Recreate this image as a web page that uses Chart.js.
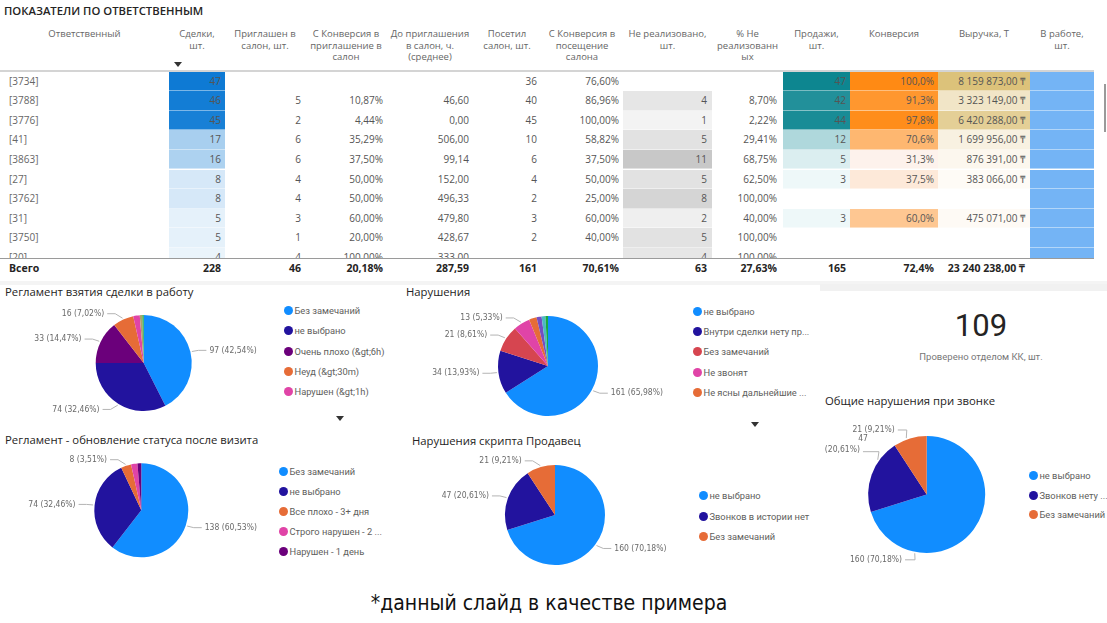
<!DOCTYPE html>
<html><head><meta charset="utf-8">
<script src="https://cdn.jsdelivr.net/npm/chart.js@4.4.1/dist/chart.umd.min.js"></script>
<style>
html,body{margin:0;padding:0;background:#fff;}
body{width:1107px;height:623px;position:relative;overflow:hidden;font-family:"Open Sans",sans-serif;}
.a{position:absolute;box-sizing:border-box;}
.hd{font-size:9.5px;line-height:11.5px;color:#666;text-align:center;white-space:pre-line;}
.cell{font-size:10px;color:#555;white-space:nowrap;}
.tot{font-size:10.5px;font-weight:700;color:#252423;white-space:nowrap;}
.ttl{font-family:"Open Sans",sans-serif;font-size:11.3px;color:#252423;white-space:nowrap;}
.lg{font-family:Roboto,sans-serif;font-size:9.3px;color:#605e5c;white-space:nowrap;height:16px;line-height:16px;}
.dot{display:inline-block;width:9px;height:9px;border-radius:50%;vertical-align:-1px;margin-right:2px;}
.arrow{width:0;height:0;border-left:4px solid transparent;border-right:4px solid transparent;border-top:5px solid #333;}
</style></head><body>
<div id="root"></div>
<script>
// ---------- DATA ----------
const managers = ['[3734]','[3788]','[3776]','[41]','[3863]','[27]','[3762]','[31]','[3750]','[20]'];
const deals = [47,46,45,17,16,8,8,5,5,4];
const invited = [null,5,2,6,6,4,4,3,1,4];
const invitedConv = [null,10.87,4.44,35.29,37.50,50.00,50.00,60.00,20.00,100.00];
const hoursToInvite = [null,46.60,0.00,506.00,99.14,152.00,496.33,479.80,428.67,333.00];
const visited = [36,40,45,10,6,4,2,3,2,null];
const visitConv = [76.60,86.96,100.00,58.82,37.50,50.00,25.00,60.00,40.00,null];
const notRealized = [null,4,1,5,11,5,8,2,5,4];
const notRealizedPct = [null,8.70,2.22,29.41,68.75,62.50,100.00,40.00,100.00,100.00];
const sales = [47,42,44,12,5,3,null,3,null,null];
const salesConv = [100.0,91.3,97.8,70.6,31.3,37.5,null,60.0,null,null];
const revenue = [8159873,3323149,6420288,1699956,876391,383066,null,475071,null,null];
const inWork = [null,null,null,null,null,null,null,null,null,null];
const totals = [228,46,20.18,287.59,161,70.61,63,27.63,165,72.4,23240238,null];
const tableHeaders = ['Ответственный','Сделки,\nшт.','Приглашен в\nсалон, шт.','С Конверсия в\nприглашение в\nсалон','До приглашения\nв салон, ч.\n(среднее)','Посетил\nсалон, шт.','С Конверсия в\nпосещение\nсалона','Не реализовано,\nшт.','% Не\nреализованн\nых','Продажи,\nшт.','Конверсия','Выручка, Т','В работе,\nшт.'];
const tableTitle = 'ПОКАЗАТЕЛИ ПО ОТВЕТСТВЕННЫМ';
const totalLabel = 'Всего';

const pie1Title = 'Регламент взятия сделки в работу';
const pie1Labels = ['Без замечаний','не выбрано','Очень плохо (&gt;6h)','Неуд (&gt;30m)','Нарушен (&gt;1h)','Другое','(пусто)'];
const pie1Values = [97,74,33,16,5,2,1];

const pie2Title = 'Нарушения';
const pie2Labels = ['не выбрано','Внутри сделки нету пр...','Без замечаний','Не звонят','Не ясны дальнейшие ...','Другое','Прочее','(пусто)'];
const pie2Values = [161,34,21,13,6,4,3,2];

const pie3Title = 'Регламент - обновление статуса после визита';
const pie3Labels = ['Без замечаний','не выбрано','Все плохо - 3+ дня','Строго нарушен - 2 ...','Нарушен - 1 день'];
const pie3Values = [138,74,8,5,3];

const pie4Title = 'Нарушения скрипта Продавец';
const pie4Labels = ['не выбрано','Звонков в истории нет','Без замечаний'];
const pie4Values = [160,47,21];

const pie5Title = 'Общие нарушения при звонке';
const pie5Labels = ['не выбрано','Звонков нету ...','Без замечаний'];
const pie5Values = [160,47,21];

const kpiValue = 109;
const kpiLabel = 'Проверено отделом КК, шт.';
const footnote = '*данный слайд в качестве примера';

// ---------- STYLE / LAYOUT ----------
const root = document.getElementById('root');
function el(cls, css, text){ const d=document.createElement('div'); d.className='a '+(cls||''); Object.assign(d.style, css||{}); if(text!=null) d.textContent=text; root.appendChild(d); return d; }

const fmtInt = v => v==null?'':String(v);
const fmt2 = v => v==null?'':v.toFixed(2).replace('.',',');
const fmtPct2 = v => v==null?'':fmt2(v)+'%';
const fmtPct1 = v => v==null?'':v.toFixed(1).replace('.',',')+'%';
const fmtMoney = v => { if(v==null) return ''; const [i,d]=v.toFixed(2).split('.'); return i.replace(/\B(?=(\d{3})+(?!\d))/g,' ')+','+d+' ₸'; };

function heat(lo, hi, c0, c1, g){
  return v => { if(v==null) return null; let t=(v-lo)/(hi-lo); t=Math.max(0,Math.min(1,t)); t=Math.pow(t,g||1);
    const c=c0.map((a,k)=>Math.round(a+(c1[k]-a)*t)); return `rgb(${c[0]},${c[1]},${c[2]})`; };
}
const nn = a => a.filter(v=>v!=null);
const mn = a => Math.min(...nn(a)), mx = a => Math.max(...nn(a));

const columns = [
  {x:0,w:169,data:managers,fmt:v=>v,align:'left',pad:9},
  {x:169,w:56,data:deals,fmt:fmtInt,pad:4,bg:heat(0,mx(deals),[255,255,255],[14,122,212])},
  {x:225,w:80,data:invited,fmt:fmtInt,pad:4},
  {x:305,w:82,data:invitedConv,fmt:fmtPct2,pad:4},
  {x:387,w:86,data:hoursToInvite,fmt:fmt2,pad:4},
  {x:473,w:68,data:visited,fmt:fmtInt,pad:4},
  {x:541,w:82,data:visitConv,fmt:fmtPct2,pad:4},
  {x:623,w:89,data:notRealized,fmt:fmtInt,pad:5,bg:heat(mn(notRealized),mx(notRealized),[243,243,243],[200,200,200])},
  {x:712,w:71,data:notRealizedPct,fmt:fmtPct2,pad:6},
  {x:783,w:67,data:sales,fmt:fmtInt,pad:4,bg:heat(mn(sales),mx(sales),[238,248,249],[13,134,144],0.8)},
  {x:850,w:88,data:salesConv,fmt:fmtPct1,pad:4,bg:heat(mn(salesConv),mx(salesConv),[253,242,236],[255,138,20])},
  {x:938,w:92,data:revenue,fmt:fmtMoney,pad:5,bg:heat(mn(revenue),mx(revenue),[254,251,246],[220,194,122])},
  {x:1030,w:64,data:inWork,fmt:fmtInt,pad:4,bg:()=> '#74b4f5'}
];
const totalFmt = [fmtInt,fmtInt,fmtPct2,fmt2,fmtInt,fmtPct2,fmtInt,fmtPct2,fmtInt,fmtPct1,fmtMoney,fmtInt];

// table title
el('', {left:'4px',top:'3px',fontSize:'11.3px',fontWeight:'600',color:'#252423',whiteSpace:'nowrap'}, tableTitle);
// headers
columns.forEach((c,i)=>{ el('hd',{left:c.x+'px',top:'28px',width:c.w+'px'}, tableHeaders[i]); });
el('arrow',{left:'174px',top:'62px'});
el('',{left:'0px',top:'69.5px',width:'1094px',height:'2px',background:'#d4d4d4'});
// body (clipped)
const body = el('',{left:'0px',top:'71.5px',width:'1094px',height:'187px',overflow:'hidden'});
const rowH = 19.6;
managers.forEach((m,r)=>{
  columns.forEach((c)=>{
    const v=c.data[r];
    const d=document.createElement('div'); d.className='a cell';
    const bg=c.bg?c.bg(v):null;
    Object.assign(d.style,{left:c.x+'px',top:(r*rowH)+'px',width:c.w+'px',height:rowH+'px',lineHeight:rowH+'px',
      textAlign:c.align||'right',paddingLeft:(c.align==='left'?c.pad:0)+'px',paddingRight:(c.align==='left'?0:c.pad)+'px',
      background:bg||'transparent',borderBottom:bg?'1px solid rgba(255,255,255,0.45)':'none',color:c.align==='left'?'#666':'#555'});
    d.textContent=c.fmt(v);
    body.appendChild(d);
  });
});
el('',{left:'0px',top:'258px',width:'1094px',height:'1px',background:'#9a9a9a'});
columns.forEach((c,i)=>{
  const txt = i===0?totalLabel:totalFmt[i-1](totals[i-1]);
  el('tot',{left:c.x+'px',top:'259px',width:c.w+'px',height:'19px',lineHeight:'19px',textAlign:i===0?'left':'right',
    paddingLeft:(i===0?c.pad:0)+'px',paddingRight:(i===0?0:c.pad)+'px'}, txt);
});
el('',{left:'1104px',top:'84px',width:'2px',height:'48px',background:'#9a9a9a'});
el('',{left:'0px',top:'281px',width:'1107px',height:'4px',background:'#f4f4f4'});
el('',{left:'820px',top:'284px',width:'287px',height:'7px',background:'#f1f1f1'});

// ---------- PIES ----------
const PBI = {blue:'#118DFF',navy:'#22139E',orange:'#E66C37',purple:'#6B007B',pink:'#E044A7',violet:'#744EC2',red:'#D64550',olive:'#A9A36B',green:'#1AAB40',teal:'#4CB8C4'};

const pieLabelPlugin = {
  id:'pieLabels',
  afterDatasetsDraw(chart, args, opts){
    const ctx=chart.ctx, meta=chart.getDatasetMeta(0), ds=chart.data.datasets[0];
    const total=ds.data.reduce((a,b)=>a+b,0);
    ctx.save();
    ctx.font=opts.font; ctx.fillStyle=opts.color; ctx.strokeStyle=opts.lineColor; ctx.lineWidth=1;
    meta.data.forEach((arc,i)=>{
      const v=ds.data[i], share=v/total;
      if(share<opts.minShare) return;
      const p=arc.getProps(['x','y','startAngle','endAngle','outerRadius'],true);
      const ov=(opts.overrides||{})[i]||{};
      const frac=ov.frac??0.5;
      const a=p.startAngle+(p.endAngle-p.startAngle)*frac;
      const r=p.outerRadius;
      const ex=p.x+Math.cos(a)*r, ey=p.y+Math.sin(a)*r;
      const side=ov.side??(Math.cos(a)>=0?1:-1);
      const ly=ey+(ov.dy??Math.sin(a)*6.5);
      const gap=ov.gap??19, elbow=ov.elbow??8;
      const tx=ex+side*gap;
      ctx.beginPath();
      ctx.moveTo(ex+Math.cos(a)*1.5, ey+Math.sin(a)*1.5);
      ctx.lineTo(ex+side*elbow, ly);
      ctx.lineTo(tx-side*3, ly);
      ctx.stroke();
      const pct=(share*100).toFixed(2).replace('.',',');
      ctx.textAlign=side>0?'left':'right'; ctx.textBaseline='middle';
      if(ov.wrap){
        ctx.fillText('('+pct+'%)', tx, ly-2);
        ctx.fillText(String(v), tx+(ov.firstDx||0), ly-13);
      } else ctx.fillText(`${v} (${pct}%)`, tx, ly);
    });
    ctx.restore();
  }
};

function makePie(cfg){
  const {box,cx,cy,r,labels,values,colors,overrides}=cfg;
  const cv=document.createElement('canvas');
  cv.width=box.w; cv.height=box.h;
  cv.style.position='absolute'; cv.style.left=box.l+'px'; cv.style.top=box.t+'px';
  root.appendChild(cv);
  new Chart(cv,{
    type:'pie',
    data:{labels:labels,datasets:[{data:values,backgroundColor:colors,borderWidth:0,hoverOffset:0,offset:0}]},
    options:{responsive:false,animation:false,events:[],
      layout:{padding:{left:cx-r-box.l,right:box.l+box.w-(cx+r),top:cy-r-box.t,bottom:box.t+box.h-(cy+r)}},
      plugins:{legend:{display:false},tooltip:{enabled:false},
        pieLabels:{font:'8.5px "Liberation Sans Narrow", "DejaVu Sans Condensed", sans-serif',color:'#6a6a6a',lineColor:'#b4b4b4',minShare:0.03,overrides:overrides||{}}}},
    plugins:[pieLabelPlugin]
  });
  const L=cfg.legend;
  labels.slice(0,L.max).forEach((lab,i)=>{
    const d=el('lg',{left:(L.x-4.5)+'px',top:(L.ys[0]+i*L.step-8)+'px'});
    const s=document.createElement('span'); s.className='dot'; s.style.background=colors[i]; d.appendChild(s);
    d.appendChild(document.createTextNode(lab));
  });
  if(L.arrow) el('arrow',{left:(L.arrow[0]-4)+'px',top:(L.arrow[1]-2)+'px'});
}

el('ttl',{left:'5px',top:'284px'},pie1Title);
makePie({box:{l:10,t:300,w:270,h:125},cx:143.7,cy:363,r:48,labels:pie1Labels,values:pie1Values,
  colors:[PBI.blue,PBI.navy,PBI.purple,PBI.orange,PBI.pink,PBI.olive,PBI.green],
  legend:{x:288,ys:[311],step:20.3,max:5,arrow:[340,418]}});

el('ttl',{left:'406px',top:'284px'},pie2Title);
makePie({box:{l:420,t:300,w:260,h:125},cx:548,cy:366,r:50,labels:pie2Labels,values:pie2Values,
  colors:[PBI.blue,PBI.navy,PBI.red,PBI.pink,PBI.orange,PBI.violet,PBI.teal,PBI.green],
  legend:{x:697,ys:[312],step:20.2,max:5,arrow:[755,424]}});

el('ttl',{left:'5px',top:'432px'},pie3Title);
makePie({box:{l:10,t:450,w:265,h:120},cx:141.3,cy:510.3,r:47,labels:pie3Labels,values:pie3Values,
  colors:[PBI.blue,PBI.navy,PBI.orange,PBI.pink,PBI.purple],
  legend:{x:283,ys:[472],step:20,max:5}});

el('ttl',{left:'412px',top:'433px'},pie4Title);
makePie({box:{l:420,t:450,w:270,h:125},cx:555,cy:515,r:50,labels:pie4Labels,values:pie4Values,
  colors:[PBI.blue,PBI.navy,PBI.orange],
  legend:{x:703,ys:[496],step:20.5,max:5}});

el('ttl',{left:'825px',top:'393px'},pie5Title);
makePie({box:{l:820,t:415,w:200,h:155},cx:926.7,cy:494.5,r:58.5,labels:pie5Labels,values:pie5Values,
  colors:[PBI.blue,PBI.navy,PBI.orange],
  overrides:{0:{frac:0.758,side:-1,dy:8,gap:13,elbow:0},1:{frac:0.71,side:-1,dy:-9,gap:19,elbow:0,wrap:true,firstDx:8},2:{frac:0.4,side:-1,dy:-9.5,gap:12,elbow:0}},
  legend:{x:1033,ys:[476],step:19.5,max:5}});

// KPI card
el('',{left:'880px',top:'306px',width:'202px',textAlign:'center',fontFamily:'Roboto,sans-serif',fontSize:'31px',color:'#252423',lineHeight:'40px'},String(kpiValue));
el('',{left:'880px',top:'350px',width:'202px',textAlign:'center',fontFamily:'Roboto,sans-serif',fontSize:'9.5px',color:'#777',lineHeight:'14px'},kpiLabel);

// footnote
el('',{left:'0px',top:'590px',width:'1098px',textAlign:'center',fontFamily:'"Liberation Sans Narrow","DejaVu Sans Condensed",sans-serif',fontSize:'21px',color:'#111',lineHeight:'26px'},footnote);
</script>
</body></html>
